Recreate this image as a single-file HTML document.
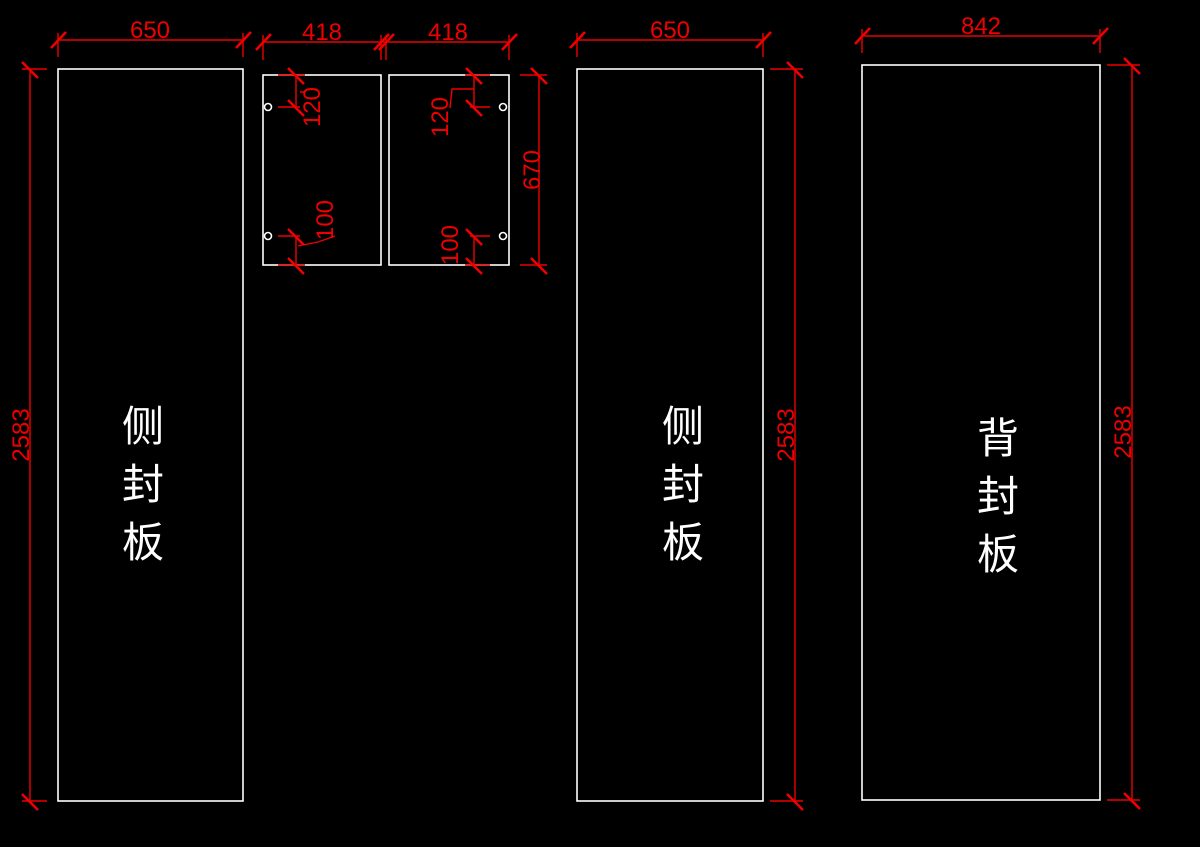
<!DOCTYPE html><html><head><style>body{margin:0;background:#000}svg{display:block}</style></head><body>
<svg width="1200" height="847" viewBox="0 0 1200 847" xmlns="http://www.w3.org/2000/svg">
<defs><style>.w{fill:none;stroke:#fff;stroke-width:1.6}.r{fill:none;stroke:#e00;stroke-width:1.4}.k{fill:none;stroke:#e00;stroke-width:2.6}.t{fill:#e00;font-family:"Liberation Sans",sans-serif;font-size:24px}.c{fill:#fff;font-family:"Liberation Sans","Noto Sans CJK SC",sans-serif;font-size:42px;text-anchor:middle}</style></defs>
<rect class="w" x="58" y="69" width="185" height="732"/>
<rect class="w" x="263" y="75" width="118" height="190"/>
<rect class="w" x="389" y="75" width="120" height="190"/>
<rect class="w" x="577" y="69" width="186" height="732"/>
<rect class="w" x="862" y="65" width="238" height="735"/>
<g class="w" stroke-width="1.2"><circle cx="268" cy="107" r="3.5"/><circle cx="268" cy="236" r="3.5"/><circle cx="503" cy="107" r="3.5"/><circle cx="503" cy="236" r="3.5"/></g>
<g class="r">
<path d="M58 40H243M58 33V57M243 33V57"/>
<path d="M263 42H509M263 35V60M381 35V60M386 35V60M509 35V60"/>
<path d="M577 40H763M577 33V57M763 33V57"/>
<path d="M862 36H1100M862 29V53M1100 29V53"/>
<path d="M30 69V801M22 69H47M22 801H47"/>
<path d="M795 69V801M770 69H803M770 801H803"/>
<path d="M1132 65V800M1107 65H1140M1107 800H1140"/>
<path d="M539 75V265M520 75H547M520 265H547"/>
<path d="M296 75V107M278 75H305M278 107H300M300 92L306 92"/>
<path d="M296 236V265M278 236H300M278 265H305M298 246L318 242L335 236"/>
<path d="M474 75V107M465 75H490M470 107H490M474 89L452 89L450 108"/>
<path d="M474 236V265M470 236H490M465 265H490"/>
</g>
<g class="k">
<path d="M51 48L66 32M236 48L251 32M256 50L271 34M374 50L389 34M379 50L394 34M502 50L517 34M570 48L585 32M756 48L771 32M855 44L870 28M1093 44L1108 28"/>
<path d="M22 62L38 78M22 794L38 810M787 62L803 78M787 794L803 810M1124 58L1140 74M1124 793L1140 809M531 68L547 84M531 258L547 274"/>
<path d="M288 68L304 84M288 100L304 116M288 229L304 245M288 258L304 274M466 68L482 84M466 100L482 116M466 229L482 245M466 258L482 274"/>
</g>
<g class="t">
<text x="150" y="38" text-anchor="middle">650</text>
<text x="322" y="40" text-anchor="middle">418</text>
<text x="448" y="40" text-anchor="middle">418</text>
<text x="670" y="38" text-anchor="middle">650</text>
<text x="981" y="34" text-anchor="middle">842</text>
<text transform="translate(29,435) rotate(-90)" text-anchor="middle">2583</text>
<text transform="translate(794,435) rotate(-90)" text-anchor="middle">2583</text>
<text transform="translate(1131,432) rotate(-90)" text-anchor="middle">2583</text>
<text transform="translate(540,170) rotate(-90)" text-anchor="middle">670</text>
<text transform="translate(320,107) rotate(-90)" text-anchor="middle">120</text>
<text transform="translate(333,220) rotate(-90)" text-anchor="middle">100</text>
<text transform="translate(448,117) rotate(-90)" text-anchor="middle">120</text>
<text transform="translate(458,245) rotate(-90)" text-anchor="middle">100</text>
</g>
<g class="c">
<text x="143" y="441">侧</text><text x="143" y="499">封</text><text x="143" y="557">板</text>
<text x="683" y="441">侧</text><text x="683" y="499">封</text><text x="683" y="557">板</text>
<text x="998" y="453">背</text><text x="998" y="511">封</text><text x="998" y="569">板</text>
</g>
</svg></body></html>
